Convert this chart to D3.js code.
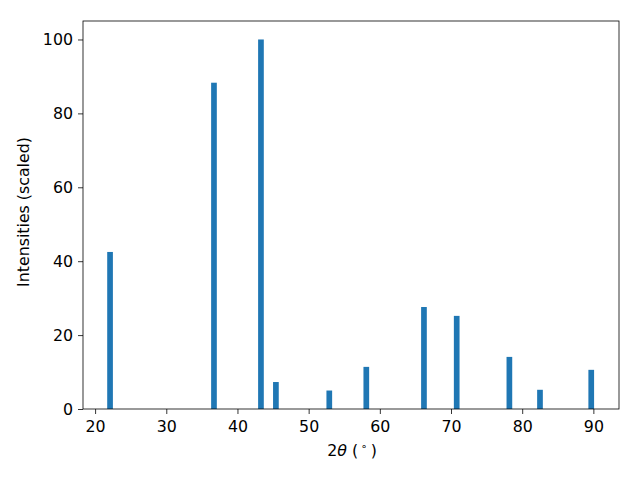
<!DOCTYPE html>
<html><head><meta charset="utf-8">
<script src="https://cdn.jsdelivr.net/npm/d3@7"></script>
<style>body{margin:0;background:#fff}svg{display:block}text{font-family:"DejaVu Sans",sans-serif}</style>
</head><body>
<script>
const twoTheta = [22.1, 36.7, 43.3, 45.4, 52.9, 58.1, 66.2, 70.8, 78.2, 82.5, 89.7];
const intensities = [42.5, 88.3, 100, 7.3, 5.0, 11.4, 27.6, 25.2, 14.1, 5.2, 10.6];
const xTicks = [20, 30, 40, 50, 60, 70, 80, 90];
const yTicks = [0, 20, 40, 60, 80, 100];
const barWidth = 0.8;

const W = 640, H = 480, FS = 15.8;
const m = {left: 83, right: 21, top: 21, bottom: 71};
const svg = d3.select("body").append("svg").attr("width", W).attr("height", H);
const x = d3.scaleLinear().domain([18.3, 93.6]).range([m.left, W - m.right]);
const y = d3.scaleLinear().domain([0, 105]).range([H - m.bottom, m.top]);

svg.append("g").selectAll("rect").data(twoTheta).join("rect")
  .attr("x", (d) => x(d - barWidth / 2))
  .attr("width", (d) => x(d + barWidth / 2) - x(d - barWidth / 2))
  .attr("y", (d, i) => y(intensities[i]))
  .attr("height", (d, i) => y(0) - y(intensities[i]))
  .attr("fill", "#1f77b4");

const xa = svg.append("g").attr("transform", `translate(0,${H - m.bottom})`)
  .call(d3.axisBottom(x).tickValues(xTicks).tickSize(5).tickPadding(6.5).tickFormat(d3.format("d")));
const ya = svg.append("g").attr("transform", `translate(${m.left},0)`)
  .call(d3.axisLeft(y).tickValues(yTicks).tickSize(5).tickPadding(5).tickFormat(d3.format("d")));
[xa, ya].forEach(a => {
  a.attr("font-size", FS).attr("font-family", "DejaVu Sans");
  a.selectAll("text").attr("fill", "#000");
  a.selectAll("line").attr("stroke", "#000").attr("stroke-width", 0.8);
  a.select(".domain").remove();
});

svg.append("rect").attr("x", m.left).attr("y", m.top)
  .attr("width", W - m.left - m.right).attr("height", H - m.top - m.bottom)
  .attr("fill", "none").attr("stroke", "#000").attr("stroke-width", 0.8);

const xl = svg.append("text").attr("x", 352).attr("y", 456)
  .attr("text-anchor", "middle").attr("font-size", FS).attr("fill", "#000");
xl.append("tspan").text("2");
xl.append("tspan").attr("font-style", "italic").text("θ");
xl.append("tspan").text(" (");
xl.append("tspan").attr("font-size", 10.5).attr("dx", 3).attr("dy", -6).text("∘");
xl.append("tspan").attr("dx", 3).attr("dy", 6).text(")");

svg.append("text").attr("transform", `translate(29,212) rotate(-90)`)
  .attr("text-anchor", "middle").attr("font-size", FS).attr("fill", "#000")
  .text("Intensities (scaled)");
</script>
</body></html>
